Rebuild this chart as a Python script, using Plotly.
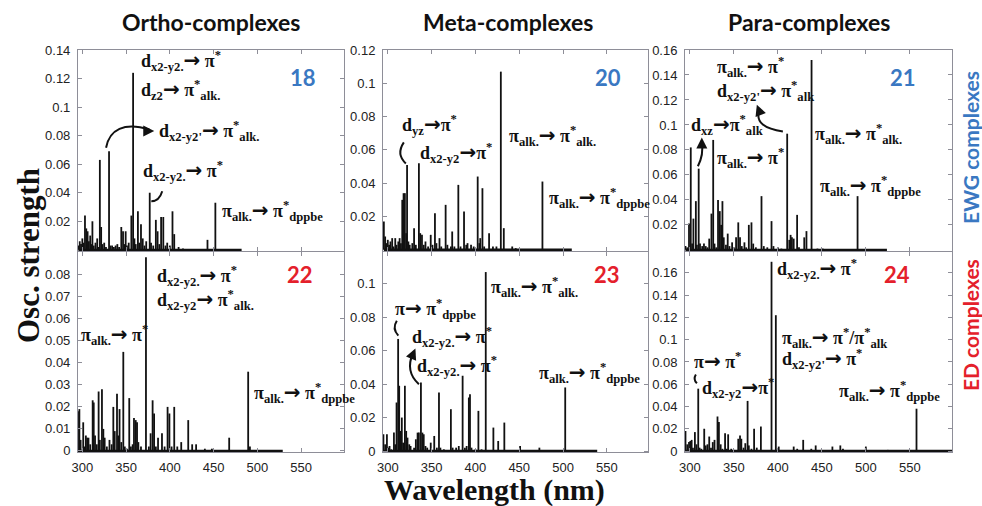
import plotly.graph_objects as go

# ---------------- stick spectra: wavelength (nm) / oscillator strength ----------------
wl_18 = [295.5, 297, 298.5, 300, 301.5, 303, 304.5, 306, 307.5, 309, 310, 311.5, 313, 315, 317,
         318.5, 320, 321.5, 323, 325, 327, 330.5, 332, 334, 336, 338, 340, 342, 344.5, 346.5,
         348, 349.5, 351, 353, 356, 358, 359.5, 361, 363.5, 365, 367, 369, 371, 373, 377,
         378.5, 381, 384, 386, 388, 390, 392.5, 395, 397, 400, 403, 405, 410, 415, 443, 452]
f_18 = [0.003, 0.006, 0.004, 0.008, 0.005, 0.024, 0.015, 0.013, 0.006, 0.010, 0.004, 0.020, 0.003,
        0.005, 0.008, 0.002, 0.063, 0.016, 0.004, 0.005, 0.002, 0.069, 0.003, 0.003, 0.002, 0.003,
        0.004, 0.002, 0.016, 0.013, 0.004, 0.013, 0.003, 0.005, 0.024, 0.124, 0.008, 0.004, 0.027,
        0.005, 0.018, 0.008, 0.003, 0.006, 0.040, 0.005, 0.003, 0.021, 0.013, 0.004, 0.023, 0.023,
        0.003, 0.005, 0.003, 0.027, 0.011, 0.002, 0.001, 0.007, 0.033]
end_18 = 482

wl_20 = [295.5, 297, 298.5, 300, 301.5, 303, 305, 306.5, 308.5, 310, 312, 313.5, 315, 316.5, 318,
         319.5, 321, 322, 323.5, 325, 328, 330, 332, 335.5, 337, 339, 341, 343, 346, 349, 351,
         353.8, 355.5, 359, 361, 366, 368, 372, 373.5, 376, 380.5, 383, 387, 389.5, 391, 395, 398,
         402.6, 404.5, 405.5, 408, 410, 415.6, 420, 424, 429, 432.4, 442, 446, 476.5]
f_20 = [0.017, 0.008, 0.004, 0.006, 0.003, 0.005, 0.007, 0.002, 0.007, 0.003, 0.005, 0.007, 0.004,
        0.030, 0.034, 0.034, 0.010, 0.051, 0.005, 0.003, 0.004, 0.013, 0.003, 0.052, 0.010, 0.009,
        0.003, 0.005, 0.002, 0.009, 0.003, 0.022, 0.004, 0.007, 0.002, 0.027, 0.003, 0.002, 0.011,
        0.002, 0.039, 0.002, 0.023, 0.003, 0.004, 0.003, 0.002, 0.044, 0.004, 0.007, 0.037, 0.002,
        0.010, 0.002, 0.002, 0.107, 0.013, 0.002, 0.001, 0.041]
end_20 = 510

wl_21 = [295, 297, 299, 301, 302.5, 304, 306.8, 308, 310, 311.5, 314, 316, 318, 320, 322, 324.5,
         326.5, 328, 330, 332, 334, 335.5, 337, 338.5, 341, 343, 345, 348, 350, 352.5, 355, 357,
         359, 362, 364, 367, 370, 372, 375, 381.4, 384, 388, 392.8, 395, 400, 404, 410.6, 413,
         414.5, 416, 418, 421.9, 424, 430, 432.5, 438.3, 445, 451, 490.6]
f_21 = [0.003, 0.002, 0.021, 0.082, 0.005, 0.025, 0.039, 0.004, 0.065, 0.005, 0.003, 0.005, 0.003,
        0.002, 0.009, 0.029, 0.088, 0.005, 0.002, 0.040, 0.031, 0.020, 0.039, 0.010, 0.004, 0.013,
        0.003, 0.006, 0.002, 0.010, 0.022, 0.010, 0.003, 0.006, 0.002, 0.020, 0.022, 0.005, 0.002,
        0.043, 0.003, 0.002, 0.023, 0.003, 0.002, 0.001, 0.093, 0.008, 0.012, 0.010, 0.009, 0.028,
        0.002, 0.010, 0.015, 0.152, 0.001, 0.001, 0.043]
end_21 = 524

wl_22 = [295, 296.6, 298, 301, 302.5, 304, 305.5, 307, 309, 311.8, 313, 314.5, 316.5, 318.6, 320,
         322.4, 324, 325.5, 328, 331, 333.5, 335.4, 337, 339.6, 341, 342.5, 344.5, 346.8, 348.5,
         351, 353.6, 355.5, 357.5, 359, 361, 362.5, 364, 367, 372.7, 376, 378, 380.3, 382, 384,
         386.5, 391, 394, 397.4, 399.5, 402, 405, 408.5, 413, 421, 425.5, 430, 440, 448, 467.8,
         489.5, 491.5]
f_22 = [0.018, 0.019, 0.005, 0.013, 0.002, 0.007, 0.006, 0.006, 0.003, 0.023, 0.022, 0.007, 0.003,
        0.027, 0.005, 0.028, 0.010, 0.006, 0.002, 0.005, 0.003, 0.020, 0.009, 0.026, 0.007, 0.019,
        0.004, 0.045, 0.002, 0.001, 0.024, 0.002, 0.003, 0.015, 0.014, 0.013, 0.004, 0.002, 0.088,
        0.002, 0.008, 0.023, 0.017, 0.002, 0.006, 0.008, 0.002, 0.020, 0.017, 0.002, 0.020, 0.002,
        0.004, 0.014, 0.003, 0.003, 0.001, 0.001, 0.006, 0.036, 0.002]
end_22 = 529

wl_23 = [295, 297, 299, 300.5, 302, 304, 307, 308.5, 310, 311.8, 313, 314.5, 316, 317.5, 319.5,
         321, 322.5, 324.5, 326, 330, 332, 334, 335.5, 337.8, 339.5, 341, 343, 345, 349, 353,
         356, 358.4, 360, 364, 372, 374, 378, 381, 385.4, 388, 390, 392.5, 393.8, 395.5, 400,
         403.4, 407, 411.8, 420.5, 426, 433, 451, 473, 502.5]
f_23 = [0.010, 0.004, 0.010, 0.002, 0.003, 0.001, 0.011, 0.004, 0.029, 0.067, 0.039, 0.012, 0.020,
        0.005, 0.039, 0.012, 0.008, 0.004, 0.003, 0.002, 0.007, 0.011, 0.011, 0.041, 0.011, 0.010,
        0.003, 0.002, 0.005, 0.009, 0.002, 0.035, 0.002, 0.001, 0.025, 0.002, 0.002, 0.003, 0.045,
        0.002, 0.003, 0.032, 0.034, 0.002, 0.001, 0.024, 0.001, 0.107, 0.014, 0.006, 0.017, 0.003,
        0.002, 0.038]
end_23 = 539

wl_24 = [295, 297, 299, 300.5, 302, 303.5, 305.7, 307.5, 309.5, 311, 313, 316.3, 318, 320, 322,
         324, 326, 328, 331.4, 333, 335, 337, 340, 342, 343.5, 347, 350, 355, 357, 358.5, 361,
         363, 365.6, 367, 370, 373, 376, 380.7, 392.8, 397.7, 401, 418, 422, 428.8, 438, 443,
         462, 471, 474, 500, 525, 557.6]
f_24 = [0.018, 0.006, 0.008, 0.009, 0.010, 0.003, 0.017, 0.006, 0.056, 0.003, 0.002, 0.020, 0.005,
        0.006, 0.013, 0.003, 0.008, 0.010, 0.031, 0.026, 0.006, 0.002, 0.016, 0.002, 0.015, 0.002,
        0.001, 0.011, 0.014, 0.011, 0.003, 0.007, 0.045, 0.005, 0.002, 0.020, 0.003, 0.022, 0.170,
        0.122, 0.004, 0.004, 0.002, 0.010, 0.002, 0.005, 0.004, 0.005, 0.002, 0.004, 0.001, 0.038]
end_24 = 600

# ---------------- axis ticks ----------------
x_ticks = [300, 350, 400, 450, 500, 550]
y_ticks_18 = [0.02, 0.04, 0.06, 0.08, 0.1, 0.12, 0.14]
y_ticks_20 = [0.02, 0.04, 0.06, 0.08, 0.1, 0.12]
y_ticks_21 = [0.02, 0.04, 0.06, 0.08, 0.1, 0.12, 0.14, 0.16]
y_ticks_22 = [0, 0.01, 0.02, 0.03, 0.04, 0.05, 0.06, 0.07, 0.08]
y_ticks_23 = [0, 0.02, 0.04, 0.06, 0.08, 0.1]
y_ticks_24 = [0, 0.02, 0.04, 0.06, 0.08, 0.1, 0.12, 0.14, 0.16]

column_titles = ["Ortho-complexes", "Meta-complexes", "Para-complexes"]
row_titles = ["EWG complexes", "ED complexes"]

BLUE = "#3a78c2"
RED = "#e4202b"
FRAME = "#8e8e98"
INK = "#111111"
SERIF = "Liberation Serif, Times New Roman, serif"
SANS = "Liberation Sans, Arial, sans-serif"
TITLE_FONT = "Lato, Open Sans, sans-serif"

# panel table: compound id, data, view ranges, axis placement, id-label position
panels = [
    dict(cid="18", wl=wl_18, f=f_18, end=end_18, yticks=y_ticks_18, yr=[-0.0008, 0.14],
         xr=[295, 599], xdom=[0.0794, 0.3503], ydom=[0.504, 0.9012], bottom=False,
         color=BLUE, idpos=(0.846, 0.861)),
    dict(cid="20", wl=wl_20, f=f_20, end=end_20, yticks=y_ticks_20, yr=[-0.0007, 0.12],
         xr=[294.5, 597], xdom=[0.390, 0.6599], ydom=[0.504, 0.9012], bottom=False,
         color=BLUE, idpos=(0.849, 0.861)),
    dict(cid="21", wl=wl_21, f=f_21, end=end_21, yticks=y_ticks_21, yr=[-0.0009, 0.16],
         xr=[294.5, 598], xdom=[0.6976, 0.9695], ydom=[0.504, 0.9012], bottom=False,
         color=BLUE, idpos=(0.816, 0.861)),
    dict(cid="22", wl=wl_22, f=f_22, end=end_22, yticks=y_ticks_22, yr=[-0.0005, 0.0904],
         xr=[295, 599], xdom=[0.0794, 0.3503], ydom=[0.1067, 0.502], bottom=True,
         color=RED, idpos=(0.835, 0.885)),
    dict(cid="23", wl=wl_23, f=f_23, end=end_23, yticks=y_ticks_23, yr=[-0.0006, 0.119],
         xr=[294.5, 597], xdom=[0.390, 0.6599], ydom=[0.1067, 0.502], bottom=True,
         color=RED, idpos=(0.845, 0.885)),
    dict(cid="24", wl=wl_24, f=f_24, end=end_24, yticks=y_ticks_24, yr=[-0.0009, 0.1788],
         xr=[294.5, 598], xdom=[0.6976, 0.9695], ydom=[0.1067, 0.502], bottom=True,
         color=RED, idpos=(0.794, 0.885)),
]

# transition labels per panel: (wavelength, strength, text)
ARW = '<span style="font-family:DejaVu Sans;font-size:20px">\u2192</span>'
PS = "\u03c0<sup>*</sup>"
PA = "\u03c0<sub>alk.</sub>"
labels = {
    "18": [(365, 0.1305, f"d<sub>x2-y2.</sub>{ARW} {PS}"),
           (365, 0.1100, f"d<sub>z2</sub>{ARW} {PS}<sub>alk.</sub>"),
           (385.6, 0.081, f"d<sub>x2-y2'</sub>{ARW} {PS}<sub>alk.</sub>"),
           (367.4, 0.053, f"d<sub>x2-y2.</sub>{ARW} {PS}"),
           (457.5, 0.025, f"{PA}{ARW} {PS}<sub>dppbe</sub>")],
    "20": [(313.7, 0.0734, f"d<sub>yz</sub>{ARW}{PS}"),
           (334.3, 0.0561, f"d<sub>x2-y2</sub>{ARW}{PS}"),
           (436.2, 0.0663, f"{PA}{ARW} {PS}<sub>alk.</sub>"),
           (481.9, 0.0293, f"{PA}{ARW} {PS}<sub>dppbe</sub>")],
    "21": [(328.4, 0.1440, f"{PA}{ARW} {PS}"),
           (328.4, 0.1248, f"d<sub>x2-y2'</sub>{ARW} {PS}<sub>alk</sub>"),
           (298.9, 0.0979, f"d<sub>xz</sub>{ARW}{PS}<sub>alk</sub>"),
           (328.4, 0.0708, f"{PA}{ARW} {PS}"),
           (439.8, 0.0907, f"{PA}{ARW} {PS}<sub>alk.</sub>"),
           (445.5, 0.0486, f"{PA}{ARW} {PS}<sub>dppbe</sub>")],
    "22": [(383.3, 0.0782, f"d<sub>x2-y2.</sub>{ARW} {PS}"),
           (383.3, 0.0673, f"d<sub>x2-y2</sub>{ARW} {PS}<sub>alk.</sub>"),
           (296.6, 0.0515, f"{PA}{ARW} {PS}"),
           (494.0, 0.0249, f"{PA}{ARW} {PS}<sub>dppbe</sub>")],
    "23": [(415.6, 0.0964, f"{PA}{ARW} {PS}<sub>alk.</sub>"),
           (305.7, 0.0833, f"\u03c0{ARW} {PS}<sub>dppbe</sub>"),
           (325.2, 0.0666, f"d<sub>x2-y2.</sub>{ARW} {PS}"),
           (330.9, 0.0488, f"d<sub>x2-y2.</sub>{ARW} {PS}"),
           (470.5, 0.0446, f"{PA}{ARW} {PS}<sub>dppbe</sub>")],
    "24": [(396.6, 0.161, f"d<sub>x2-y2.</sub>{ARW} {PS}"),
           (402.3, 0.0990, f"{PA}{ARW} {PS}/{PS}<sub>alk</sub>"),
           (402.3, 0.0800, f"d<sub>x2-y2'</sub>{ARW} {PS}"),
           (302.3, 0.0778, f"\u03c0{ARW} {PS}"),
           (311.4, 0.0536, f"d<sub>x2-y2</sub>{ARW}{PS}"),
           (467.0, 0.051, f"{PA}{ARW} {PS}<sub>dppbe</sub>")],
}

# curved leader lines (SVG paths in data units) and arrow tips (x, y, ax, ay in px)
leaders = {
    "18": ["M 378.8,0.0341 Q 387.9,0.0341 391.3,0.0411",
           "M 327.1,0.0715 C 330.8,0.0843 347.9,0.0898 376.5,0.0843"],
    "20": ["M 320.6,0.0519 Q 309.2,0.0573 318.3,0.0645"],
    "21": ["M 405.7,0.0947 Q 373.9,0.0979 378.4,0.1106",
           "M 309.1,0.0669 Q 315.9,0.0764 313.6,0.0860"],
    "23": ["M 312.0,0.0690 Q 304.6,0.0732 310.3,0.0779",
           "M 335.5,0.0399 Q 319.5,0.0476 328.6,0.0583"],
    "24": ["M 308.0,0.0608 Q 303.4,0.0644 306.8,0.0688"],
}
tips = {
    "18": [(382.2, 0.0832, -9, 0)],
    "21": [(376.1, 0.1162, 3, 8), (313.6, 0.0899, 0, 7)],
    "23": [(331.5, 0.0613, -3, 7)],
}


def sticks(wl, f):
    xs, ys = [], []
    for w, v in zip(wl, f):
        xs += [w, w, None]
        ys += [0, v, None]
    return xs, ys


fig = go.Figure()
annotations = []
shapes = []
layout_axes = {}

for i, p in enumerate(panels, start=1):
    sx = "" if i == 1 else str(i)
    xref, yref = f"x{sx}", f"y{sx}"

    # baseline of the computed window
    fig.add_trace(go.Scatter(x=[p["wl"][0], p["end"]], y=[0, 0], mode="lines",
                             line=dict(color=INK, width=2.4),
                             xaxis=xref, yaxis=yref, hoverinfo="skip"))
    xs, ys = sticks(p["wl"], p["f"])
    fig.add_trace(go.Scatter(x=xs, y=ys, mode="lines", line=dict(color=INK, width=1.8),
                             xaxis=xref, yaxis=yref, connectgaps=False))

    layout_axes[f"xaxis{sx}"] = dict(
        domain=p["xdom"], range=p["xr"], anchor=yref, showline=True, linecolor=FRAME,
        linewidth=1, mirror="ticks", ticks="inside", ticklen=4, tickcolor=FRAME,
        tickvals=x_ticks, ticktext=[str(v) for v in x_ticks], showticklabels=p["bottom"],
        tickfont=dict(family=SANS, size=13, color="#222222"), ticklabelstandoff=3,
        showgrid=False, zeroline=False, fixedrange=True, automargin=False)
    layout_axes[f"yaxis{sx}"] = dict(
        domain=p["ydom"], range=p["yr"], anchor=xref, showline=True, linecolor=FRAME,
        linewidth=1, mirror="ticks", ticks="inside", ticklen=4, tickcolor=FRAME,
        tickvals=p["yticks"], ticktext=[f"{v:g}" for v in p["yticks"]],
        tickfont=dict(family=SANS, size=13, color="#222222"), ticklabelstandoff=4,
        showgrid=False, zeroline=False, fixedrange=True, automargin=False)

    # compound number
    annotations.append(dict(xref=f"{xref} domain", yref=f"{yref} domain",
                            x=p["idpos"][0], y=p["idpos"][1], xanchor="center", yanchor="middle",
                            text=f"<b>{p['cid']}</b>", showarrow=False,
                            font=dict(family=TITLE_FONT, size=22, color=p["color"])))

    for x, y, t in labels.get(p["cid"], []):
        annotations.append(dict(xref=xref, yref=yref, x=x, y=y, text=t, showarrow=False,
                                xanchor="left", yanchor="middle", yshift=3,
                                font=dict(family=SERIF, size=18, color=INK, weight="bold")))
    for path in leaders.get(p["cid"], []):
        shapes.append(dict(type="path", xref=xref, yref=yref, path=path,
                           line=dict(color=INK, width=2)))
    for x, y, ax, ay in tips.get(p["cid"], []):
        annotations.append(dict(xref=xref, yref=yref, x=x, y=y, ax=ax, ay=ay, text="",
                                showarrow=True, arrowhead=2, arrowsize=1.1, arrowwidth=2,
                                arrowcolor=INK, standoff=0))

# column and row headings
for xc, t in zip([0.2149, 0.5173, 0.8238], column_titles):
    annotations.append(dict(xref="paper", yref="paper", x=xc, y=0.9565, text=f"<b>{t}</b>",
                            xanchor="center", yanchor="middle", showarrow=False,
                            font=dict(family=TITLE_FONT, size=23, color=INK)))
for yc, t, c in zip([0.7075, 0.3577], row_titles, [BLUE, RED]):
    annotations.append(dict(xref="paper", yref="paper", x=0.9878, y=yc, text=f"<b>{t}</b>",
                            xanchor="center", yanchor="middle", textangle=-90, showarrow=False,
                            font=dict(family=TITLE_FONT, size=21, color=c)))

# shared axis titles
annotations.append(dict(xref="paper", yref="paper", x=0.0285, y=0.496, text="<b>Osc. strength</b>",
                        xanchor="center", yanchor="middle", textangle=-90, showarrow=False,
                        font=dict(family=SERIF, size=31, color=INK)))
annotations.append(dict(xref="paper", yref="paper", x=0.504, y=0.0316, text="<b>Wavelength (nm)</b>",
                        xanchor="center", yanchor="middle", showarrow=False,
                        font=dict(family=SERIF, size=30, color=INK)))

fig.update_layout(
    width=982, height=506, margin=dict(l=0, r=0, t=0, b=0),
    paper_bgcolor="white", plot_bgcolor="white", showlegend=False,
    annotations=annotations, shapes=shapes, **layout_axes)

fig.write_html("out.html")
